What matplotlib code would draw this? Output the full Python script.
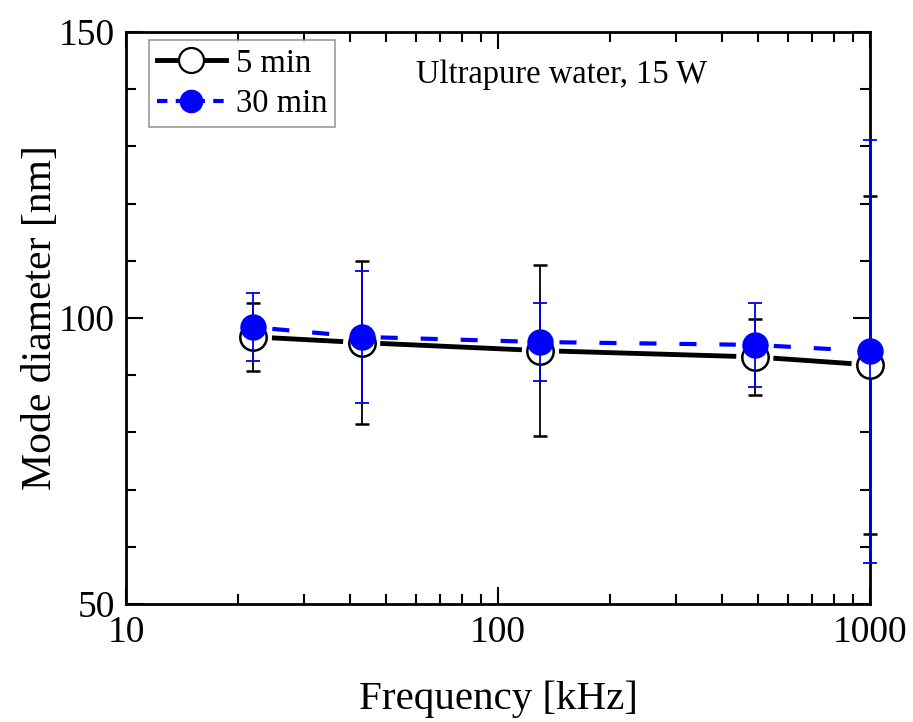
import numpy as np
import matplotlib.pyplot as plt
from matplotlib.lines import Line2D
from matplotlib.ticker import MultipleLocator, LogLocator, NullFormatter

plt.rcParams['font.family'] = ['Liberation Serif', 'DejaVu Serif']

# Frequencies [kHz]
freq = [22, 43, 130, 490, 1000]

# Mode diameter [nm] and error
d_5min = [96.7, 95.7, 94.3, 93.2, 91.8]
err_5min = [6.0, 14.2, 15.0, 6.6, 29.5]
d_30min = [98.4, 96.7, 95.8, 95.3, 94.2]
err_30min = [6.0, 11.6, 6.8, 7.4, 37.0]

dashes = (0, (4.1, 5.5))

fig = plt.figure(figsize=(9.13, 7.22), dpi=100)
ax = fig.add_axes([0.138, 0.1634, 0.815, 0.7923])
ax.set_xscale('log')
ax.set_xlim(10, 1000)
ax.set_ylim(50, 150)


def gapped_line(x, y, gap, **kw):
    # connect points with segments that stop short of the markers
    pts = ax.transData.transform(np.column_stack([x, y]))
    inv = ax.transData.inverted()
    for p0, p1 in zip(pts[:-1], pts[1:]):
        d = p1 - p0
        u = d / np.hypot(*d)
        seg = inv.transform(np.array([p0 + u * gap, p1 - u * gap]))
        ax.plot(seg[:, 0], seg[:, 1], **kw)


gapped_line(freq, d_5min, 21, color='black', lw=3.5, ls='-', zorder=2)
gapped_line(freq, d_30min, 19, color='#0000ff', lw=3, ls=dashes, zorder=2)

ax.errorbar(freq, d_5min, yerr=err_5min, ls='none',
            marker='o', ms=19, mfc='white', mec='black', mew=1.8,
            ecolor='black', elinewidth=1.3, capsize=5, capthick=1.3,
            clip_on=False, zorder=3)
ax.errorbar(freq, d_30min, yerr=err_30min, ls='none',
            marker='o', ms=18, mfc='#0000ff', mec='#0000ff',
            ecolor='#0000ee', elinewidth=1.3, capsize=5, capthick=1.3,
            clip_on=False, zorder=4)

ax.set_yticks([50, 100, 150])
ax.yaxis.set_minor_locator(MultipleLocator(10))
ax.set_xticks([10, 100, 1000])
ax.set_xticklabels(['10', '100', '1000'])
ax.xaxis.set_minor_locator(LogLocator(base=10, subs=range(2, 10)))
ax.xaxis.set_minor_formatter(NullFormatter())

ax.tick_params(which='both', direction='in', top=True, right=True, labelsize=27, width=1.5)
ax.tick_params(which='major', length=12, pad=8)
ax.tick_params(which='minor', length=7)
for s in ax.spines.values():
    s.set_linewidth(2)

ax.set_xlabel('Frequency [kHz]', fontsize=29.5, labelpad=22)
ax.set_ylabel('Mode diameter [nm]', fontsize=30, labelpad=-1)

ax.text(0.585, 0.925, 'Ultrapure water, 15 W', transform=ax.transAxes,
        fontsize=23.5, ha='center', va='center')

handles = [
    Line2D([], [], color='black', lw=3.5, marker='o', ms=18, mfc='white', mec='black', mew=1.6),
    Line2D([], [], color='#0000ff', lw=3, ls=(0, (2.5, 2.0)), marker='o', ms=16,
           mfc='#0000ff', mec='#0000ff'),
]
leg = ax.legend(handles, ['5 min', '30 min'], loc='upper left', fontsize=23.5,
                frameon=True, fancybox=False, edgecolor='gray',
                handlelength=2.1, handletextpad=0.3, borderpad=0.25,
                labelspacing=0.3, borderaxespad=0.25, bbox_to_anchor=(0.02, 1.0))
leg.get_frame().set_linewidth(1.2)

plt.savefig('out.png', dpi=100)
